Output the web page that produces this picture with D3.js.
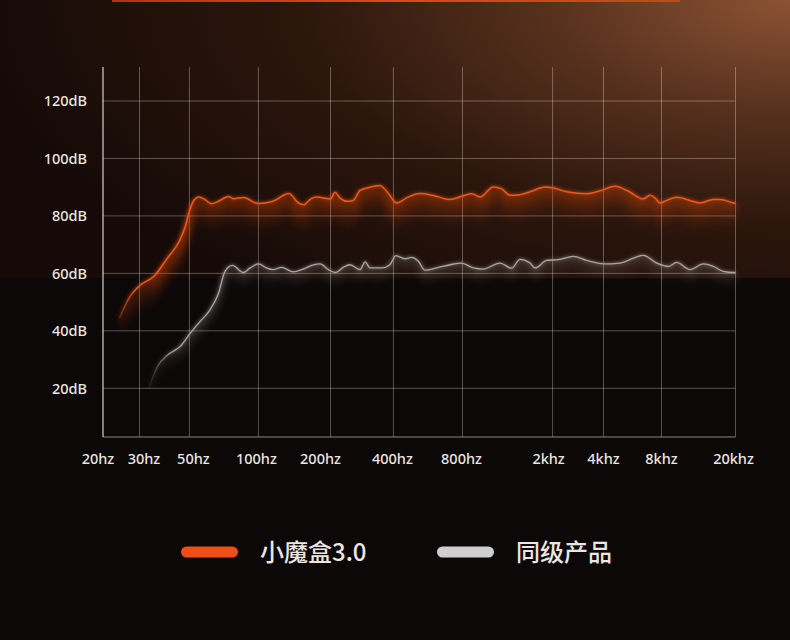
<!DOCTYPE html>
<html>
<head>
<meta charset="utf-8">
<script src="https://cdn.jsdelivr.net/npm/d3@7"></script>
<style>
  html, body { margin: 0; padding: 0; background: #0c0808; }
  svg { display: block; }
</style>
</head>
<body>
<svg id="chart"></svg>
<script>
// x axis ticks
var freqTicks  = [20, 30, 50, 100, 200, 400, 800, 2000, 4000, 8000, 20000];
var freqLabels = ["20hz","30hz","50hz","100hz","200hz","400hz","800hz","2khz","4khz","8khz","20khz"];
// y axis ticks
var dbTicks  = [20, 40, 60, 80, 100, 120];
var dbLabels = ["20dB","40dB","60dB","80dB","100dB","120dB"];

var seriesNames = ["小魔盒3.0", "同级产品"];

// 小魔盒3.0
var mojoFreq = [24,27,30,35,40,45,48,50,52,55,58.5,62.5,67,74,78,86,100,115,134,147,155,164,175,200,
                210,222,239,257,277,303,345,371,414,457,522,597,706,800,878,956,1094,1192,1297,1436,1590,
                1852,2000,2424,3182,3900,4590,5380,6436,6974,7404,7860,8532,9656,11386,12890,15190,16520,19460,20000];
var mojoDb   = [44.4,52.0,55.7,59.2,65.4,71.1,76.4,81.6,85.1,86.6,85.7,84.2,85.1,86.8,86.0,86.4,84.3,85.1,87.8,84.5,83.9,85.7,86.6,85.9,
                88.2,86.3,85.1,85.4,88.9,89.8,90.6,88.6,84.5,86.3,87.8,87.1,85.7,86.9,87.7,86.6,90.1,89.4,87.2,87.4,88.4,
                90.1,89.8,88.4,87.7,88.9,90.3,88.6,85.9,87.2,86.3,84.5,85.4,86.5,85.4,84.5,85.7,85.7,84.5,84.3];

// 同级产品
var peerFreq = [33,36,40,45.4,50.5,55.6,61.5,67,71.5,77,86,92,100,108,115,125,140,154,170,181,196,212,230,248,277,293,309,
                352,385,410,449,480,514,549,618,706,790,893,989,1171,1319,1436,1590,1673,1885,2162,2652,3182,4000,4873,
                6436,7553,8702,9656,11386,13427,15190,17190,19460,20000];
var peerDb   = [20.0,27.5,31.6,34.5,39.2,43.2,47.3,53.1,60.7,62.8,60.3,61.9,63.3,61.9,61.3,62.1,60.5,61.5,63.0,63.3,61.3,60.3,62.1,63.0,61.3,64.0,61.9,
                61.9,63.0,66.2,65.1,65.6,64.2,61.1,61.9,63.0,63.6,61.9,61.5,63.6,61.8,64.9,63.6,61.9,64.5,64.8,65.9,64.5,63.3,63.6,
                66.3,63.6,62.4,63.8,61.3,63.3,62.4,60.7,60.3,60.3];

var width = 790, height = 640;
var plotTop = 67, plotBottom = 437, plotLeft = 103, plotRight = 735.5;
// gridline positions of the original artwork (not quite a regular log axis)
var tickPos = [103, 139.5, 189.4, 258.4, 330.5, 393.4, 462.5, 552.6, 603.5, 661.5, 735.5];
// the artwork's tick labels are not exactly centred on their gridlines
var labelShift = [-5, 4.5, 4, -2, -10, -1, -1, -4, 0, 0, -2];

var x = d3.scaleLog().domain(freqTicks).range(tickPos);
var y = d3.scaleLinear().domain([20, 120]).range([388.3, 101]);

var svg = d3.select("#chart").attr("width", width).attr("height", height);
var defs = svg.append("defs");

// background glow
var bg = defs.append("radialGradient").attr("id", "bgGlow")
    .attr("gradientUnits", "userSpaceOnUse")
    .attr("cx", 790).attr("cy", 0).attr("r", 820)
    .attr("gradientTransform", "translate(790,0) scale(1,0.46) translate(-790,0)");
[[0, "#8c5234"], [0.3, "#56301d"], [0.6, "#2c160c"], [1, "#150a07"]].forEach(function(s){
    bg.append("stop").attr("offset", s[0]).attr("stop-color", s[1]);
});

svg.append("rect").attr("width", width).attr("height", height).attr("fill", "#0c0808");
svg.append("rect").attr("width", width).attr("height", 278).attr("fill", "url(#bgGlow)");

var topBar = defs.append("linearGradient").attr("id", "topBar");
topBar.append("stop").attr("offset", 0).attr("stop-color", "#b3360c");
topBar.append("stop").attr("offset", 0.5).attr("stop-color", "#d84a16");
topBar.append("stop").attr("offset", 1).attr("stop-color", "#c4471a");
svg.append("rect").attr("x", 112).attr("y", 0).attr("width", 568).attr("height", 2)
    .attr("fill", "url(#topBar)");

// grid
var grid = svg.append("g");
grid.selectAll(".vgrid")
    .data(freqTicks.slice(1))
    .enter().append("line")
    .attr("class", "vgrid")
    .attr("x1", function(d){ return x(d); }).attr("x2", function(d){ return x(d); })
    .attr("y1", plotTop).attr("y2", plotBottom)
    .attr("stroke", "rgba(255,255,255,0.3)").attr("stroke-width", 1);
grid.selectAll(".hgrid")
    .data(dbTicks)
    .enter().append("line")
    .attr("class", "hgrid")
    .attr("x1", plotLeft).attr("x2", plotRight)
    .attr("y1", function(d){ return y(d); }).attr("y2", function(d){ return y(d); })
    .attr("stroke", "rgba(255,255,255,0.3)").attr("stroke-width", 1);

svg.append("line").attr("x1", plotLeft).attr("x2", plotRight)
    .attr("y1", plotBottom).attr("y2", plotBottom)
    .attr("stroke", "#8a8584").attr("stroke-width", 1.2);
svg.append("line").attr("x1", plotLeft).attr("x2", plotLeft)
    .attr("y1", plotTop).attr("y2", plotBottom)
    .attr("stroke", "#d6d0cc").attr("stroke-width", 1.2);

// tick labels
svg.append("g").selectAll("text")
    .data(dbTicks)
    .enter().append("text")
    .attr("x", 87)
    .attr("y", function(d){ return y(d); })
    .attr("dy", "0.36em")
    .attr("text-anchor", "end")
    .attr("fill", "#ebe5e1")
    .style("font-family", "'Noto Sans', sans-serif")
    .style("font-size", "14.5px")
    .style("font-weight", 500)
    .text(function(d, i){ return dbLabels[i]; });

svg.append("g").selectAll("text")
    .data(freqTicks)
    .enter().append("text")
    .attr("x", function(d, i){ return x(d) + labelShift[i]; })
    .attr("y", 459)
    .attr("dy", "0.36em")
    .attr("text-anchor", "middle")
    .attr("fill", "#ebe5e1")
    .style("font-family", "'Noto Sans', sans-serif")
    .style("font-size", "14.5px")
    .style("font-weight", 500)
    .text(function(d, i){ return freqLabels[i]; });

// filters
var soft = defs.append("filter").attr("id", "soft")
    .attr("x", "-10%").attr("y", "-20%").attr("width", "120%").attr("height", "140%");
soft.append("feGaussianBlur").attr("stdDeviation", "3.5 2");
var glow = defs.append("filter").attr("id", "lineGlow")
    .attr("x", "-10%").attr("y", "-50%").attr("width", "120%").attr("height", "200%");
glow.append("feGaussianBlur").attr("stdDeviation", 1.6);

var series = [
    {id: "mojo", freq: mojoFreq, db: mojoDb, color: "#f0561a", width: 1.5, fill: "#e0460e", fillOp: 0.3, depth: 36,
     glowOp: 0.35, fadeFrom: 113, fadeTo: 136},
    {id: "peer", freq: peerFreq, db: peerDb, color: "#aaa4a1", width: 1.3, fill: "#d8d2cf", fillOp: 0.12, depth: 22,
     glowOp: 0.3, fadeFrom: 147, fadeTo: 175}
];

series.forEach(function(s){
    var pts = s.freq.map(function(f, i){ return {f: f, v: s.db[i]}; });

    var line = d3.line().curve(d3.curveMonotoneX)
        .x(function(d){ return x(d.f); })
        .y(function(d){ return y(d.v); });

    var fade = defs.append("linearGradient").attr("id", "fade-" + s.id)
        .attr("gradientUnits", "userSpaceOnUse")
        .attr("x1", s.fadeFrom).attr("x2", s.fadeTo).attr("y1", 0).attr("y2", 0);
    fade.append("stop").attr("offset", 0).attr("stop-color", s.color).attr("stop-opacity", 0);
    fade.append("stop").attr("offset", 1).attr("stop-color", s.color).attr("stop-opacity", 1);

    var fadeFill = defs.append("linearGradient").attr("id", "fadefill-" + s.id)
        .attr("gradientUnits", "userSpaceOnUse")
        .attr("x1", s.fadeFrom).attr("x2", s.fadeTo + 14).attr("y1", 0).attr("y2", 0);
    fadeFill.append("stop").attr("offset", 0).attr("stop-color", s.fill).attr("stop-opacity", 0);
    fadeFill.append("stop").attr("offset", 1).attr("stop-color", s.fill).attr("stop-opacity", 1);

    // glow under the curve: copies of the line shifted down, fading out
    var offsets = d3.range(1, s.depth);
    svg.append("g")
        .attr("filter", "url(#soft)")
        .selectAll("path")
        .data(offsets)
        .enter().append("path")
        .attr("d", line(pts))
        .attr("transform", function(k){ return "translate(0," + k + ")"; })
        .attr("fill", "none")
        .attr("stroke", "url(#fadefill-" + s.id + ")")
        .attr("stroke-width", 1.5)
        .attr("stroke-opacity", function(k){
            var t = 1 - k / s.depth;
            return s.fillOp * t * t;
        });

    svg.append("path")
        .attr("d", line(pts))
        .attr("fill", "none")
        .attr("stroke", "url(#fade-" + s.id + ")")
        .attr("stroke-width", 3.5)
        .attr("stroke-opacity", s.glowOp)
        .attr("filter", "url(#lineGlow)");

    svg.append("path")
        .attr("d", line(pts))
        .attr("fill", "none")
        .attr("stroke", "url(#fade-" + s.id + ")")
        .attr("stroke-width", s.width);
});

// legend
var legend = svg.append("g").attr("transform", "translate(0,552)");
var legendX = [181, 437];
var legendColors = ["#f04e14", "#cfcfcf"];
seriesNames.forEach(function(name, i){
    legend.append("rect")
        .attr("x", legendX[i]).attr("y", -5.5)
        .attr("width", 57).attr("height", 11).attr("rx", 5.5)
        .attr("fill", legendColors[i]);
    legend.append("text")
        .attr("x", legendX[i] + 79).attr("y", 0)
        .attr("dy", "0.36em")
        .attr("fill", "#ece6e2")
        .style("font-family", "'Noto Sans CJK SC', sans-serif")
        .style("font-size", "24px")
        .style("font-weight", 500)
        .text(name);
});
</script>
</body>
</html>
